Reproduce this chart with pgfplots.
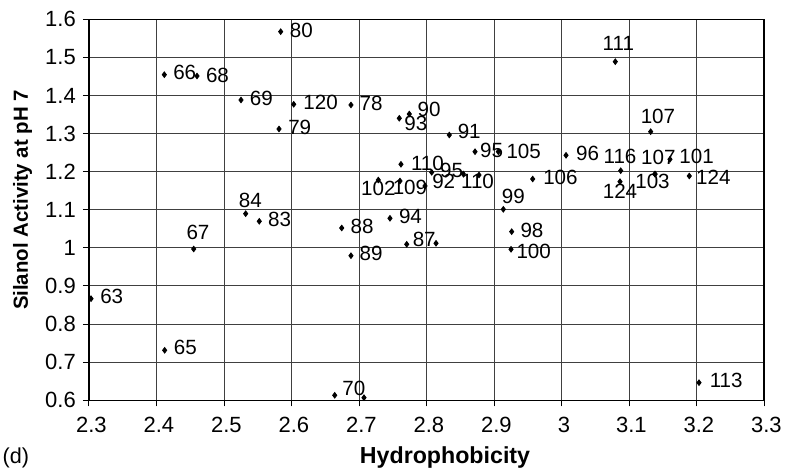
\documentclass[border=0pt]{standalone}
\usepackage{fontspec}
\setmainfont{Liberation Sans}
\usepackage{pgfplots}
\usepackage{pgfplotstable}
\pgfplotsset{compat=1.18}
\usetikzlibrary{calc}

% x y label dx dy  (dx,dy: label offset in reference pixels, dy up)
\pgfplotstableread{
x y lab dx dy
2.5840 1.5675 80 20.6 1.7
2.4116 1.4546 66 20.4 2.0
2.4600 1.4512 68 20.5 1.0
2.5252 1.3882 69 20.3 1.7
2.6033 1.3769 120 26.8 2.0
2.6881 1.3751 78 20.2 1.7
2.5815 1.3121 79 20.7 1.7
2.7597 1.3402 93 16.5 -5.0
2.7745 1.3514 90 19.9 4.7
2.7622 1.2194 110 26.5 1.0
2.7286 1.1782 102 0.0 -8.3
2.7607 1.1756 109 10.0 -6.0
2.7978 1.1625 92 18.7 4.3
2.8077 1.1984 95 20.0 1.6
2.8778 1.1913 110 -1.5 -6.7
2.8338 1.2963 91 19.9 3.3
2.8719 1.2525 95 16.5 1.0
2.9064 1.2525 105 25.4 0.7
2.9138 1.1013 99 10.0 13.3
2.7459 1.0777 94 20.5 2.3
2.6744 1.0522 88 20.3 2.0
2.7707 1.0094 87 17.5 5.3
2.9262 1.0425 98 20.3 1.0
2.9252 0.9963 100 22.7 -2.4
2.6881 0.9795 89 20.2 2.4
2.4551 0.9971 67 4.3 16.7
2.5321 1.0898 84 4.6 13.7
2.5523 1.0698 83 20.4 2.3
2.3030 0.8667 63 20.7 2.7
2.4121 0.7312 65 20.6 2.6
2.6640 0.6131 70 19.1 7.0
3.2037 0.6462 113 27.2 2.0
2.9573 1.1808 106 27.8 1.7
3.0067 1.2430 96 21.5 2.0
3.0797 1.4887 111 3.0 18.4
3.1321 1.3050 107 7.3 15.0
3.0877 1.2026 116 -0.7 14.0
3.0867 1.1738 124 0.0 -10.0
3.1385 1.1940 107 3.3 16.7
3.1385 1.1935 103 -2.5 -7.0
3.1607 1.2325 101 26.7 2.6
3.1893 1.1887 124 24.0 -1.3
}\datatable

\pgfplotstableread{
x y
2.8545 1.1940
2.8141 1.0121
2.7074 0.6068
}\extratable

\begin{document}
\begin{tikzpicture}
\begin{axis}[
  scale only axis,
  width=337.5pt, height=190.5pt,
  xmin=2.3, xmax=3.3, ymin=0.6, ymax=1.6,
  xtick={2.3,2.4,2.5,2.6,2.7,2.8,2.9,3.0,3.1,3.2,3.3},
  xticklabels={2.3,2.4,2.5,2.6,2.7,2.8,2.9,3,3.1,3.2,3.3},
  ytick={0.6,0.7,0.8,0.9,1.0,1.1,1.2,1.3,1.4,1.5,1.6},
  yticklabels={0.6,0.7,0.8,0.9,1,1.1,1.2,1.3,1.4,1.5,1.6},
  tick align=outside, major tick length=3pt, tick pos=left,
  tick style={black, line width=0.5pt},
  grid=major,
  major grid style={black!75, line width=0.5pt},
  axis line style={black, line width=0.6pt},
  tick label style={font=\fontsize{11}{13}\selectfont},
  xticklabel style={anchor=center, inner sep=0pt, yshift=-9.5pt, xshift=1.2pt},
  yticklabel style={anchor=east, inner sep=0pt, xshift=-3.4pt},
  xlabel={Hydrophobicity},
  xlabel style={at={(axis description cs:0.5274,-0.1654)}, anchor=base, font=\bfseries\fontsize{11.6}{13}\selectfont},
  ylabel={Silanol Activity at pH 7},
  ylabel style={at={(axis description cs:-0.0985,0.5257)}, anchor=center, font=\bfseries\fontsize{10.2}{12}\selectfont},
  clip=false,
]
\addplot[only marks, mark=diamond*, mark size=1.4pt, black,
  nodes near coords, point meta=explicit symbolic,
  visualization depends on={\thisrow{dx}\as\ldx},
  visualization depends on={\thisrow{dy}\as\ldy},
  every node near coord/.append style={anchor=center, inner sep=0pt,
     xshift=\ldx*0.5pt, yshift=\ldy*0.5pt,
     font=\fontsize{10.3}{12}\selectfont, text=black},
] table[x=x, y=y, meta=lab] {\datatable};
\addplot[only marks, mark=diamond*, mark size=1.4pt, black] table[x=x, y=y] {\extratable};
\node[anchor=base, font=\fontsize{10.8}{13}\selectfont] at (axis description cs:-0.1084,-0.1654) {(d)};
\coordinate (bl) at (rel axis cs:0,0);
\coordinate (tr) at (rel axis cs:1,1);
\end{axis}
\pgfresetboundingbox
\path[use as bounding box] ($(bl)+(-44.5pt,-34.35pt)$) rectangle ($(tr)+(11.5pt,9.65pt)$);
\end{tikzpicture}
\end{document}
